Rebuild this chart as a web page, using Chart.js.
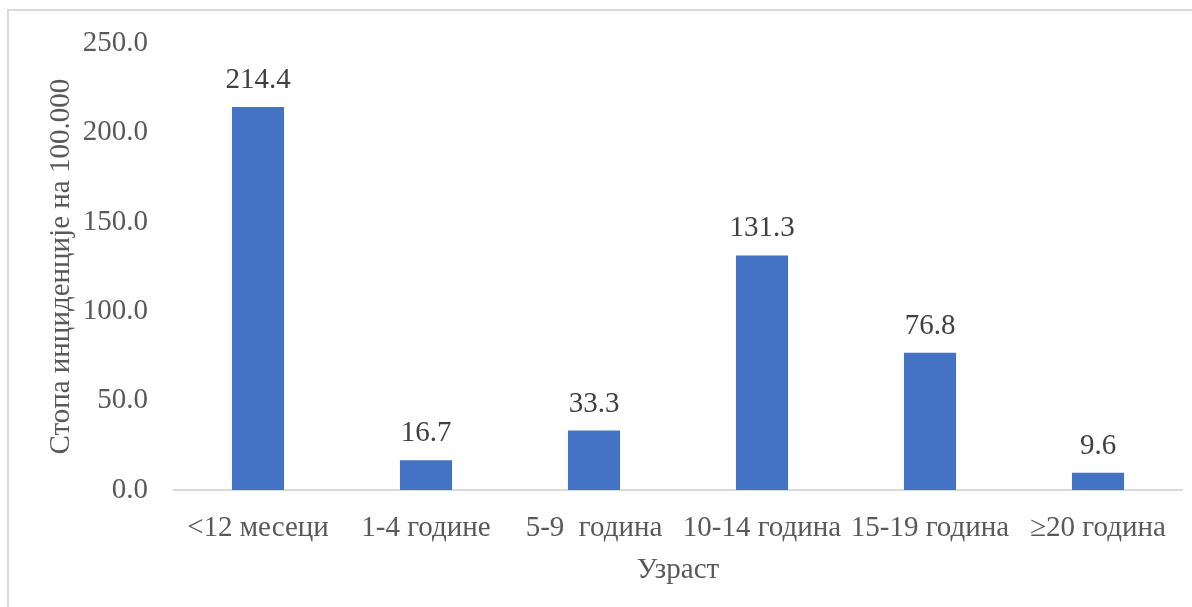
<!DOCTYPE html>
<html>
<head>
<meta charset="utf-8">
<script src="https://cdn.jsdelivr.net/npm/chart.js@4.4.0/dist/chart.umd.min.js"></script>
<style>
  html, body { margin: 0; padding: 0; background: #fff; }
  #wrap { position: relative; width: 1192px; height: 607px; overflow: hidden; }
  #frame { position: absolute; left: 7px; top: 9px; width: 1200px; height: 620px; border: 2px solid #d9d9d9; box-sizing: border-box; }
  #cv { position: absolute; left: 0; top: 0; }
</style>
</head>
<body>
<div id="wrap">
  <div id="frame"></div>
  <canvas id="cv" width="1192" height="607"></canvas>
</div>
<script>
const categories = ['<12 месеци', '1-4 године', '5-9  година', '10-14 година', '15-19 година', '≥20 година'];
const values = [214.4, 16.7, 33.3, 131.3, 76.8, 9.6];
const yTitle = 'Стопа инциденције на 100.000';
const xTitle = 'Узраст';

const FONT = "'Liberation Serif', 'Times New Roman', serif";

const valueLabels = {
  id: 'valueLabels',
  afterDatasetsDraw(chart) {
    const ctx = chart.ctx;
    const meta = chart.getDatasetMeta(0);
    ctx.save();
    ctx.font = '29px ' + FONT;
    ctx.fillStyle = '#404040';
    ctx.textAlign = 'center';
    ctx.textBaseline = 'alphabetic';
    meta.data.forEach((bar, i) => {
      ctx.fillText(values[i].toFixed(1), bar.x, bar.y - 19);
    });
    ctx.restore();
  }
};

new Chart(document.getElementById('cv'), {
  type: 'bar',
  data: {
    labels: categories,
    datasets: [{
      data: values,
      backgroundColor: '#4472C4',
      borderWidth: 0,
      categoryPercentage: 1,
      barPercentage: 0.31
    }]
  },
  options: {
    responsive: false,
    animation: false,
    devicePixelRatio: 1,
    layout: { padding: { top: 39, right: 10, left: 0, bottom: 0 } },
    plugins: { legend: { display: false }, tooltip: { enabled: false } },
    scales: {
      y: {
        min: 0, max: 250,
        afterFit(scale) { scale.width = 174; },
        grid: { display: false, drawTicks: false },
        border: { display: false },
        ticks: {
          stepSize: 50,
          padding: 26,
          color: '#595959',
          font: { family: FONT, size: 29 },
          callback: v => Number(v).toFixed(1)
        },
        title: {
          display: true,
          text: yTitle,
          color: '#595959',
          font: { family: FONT, size: 29 },
          padding: { top: 44, bottom: 0 }
        }
      },
      x: {
        afterFit(scale) { scale.height = 117; },
        grid: { display: false, drawTicks: false },
        border: { display: true, color: '#d9d9d9', width: 2 },
        ticks: {
          padding: 21,
          color: '#595959',
          maxRotation: 0,
          autoSkip: false,
          font: { family: FONT, size: 29 }
        },
        title: {
          display: true,
          text: xTitle,
          color: '#595959',
          font: { family: FONT, size: 29 },
          padding: { top: 0, bottom: 19 }
        }
      }
    }
  },
  plugins: [valueLabels]
});
</script>
</body>
</html>
